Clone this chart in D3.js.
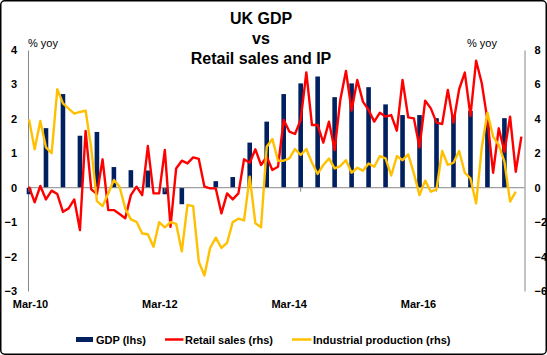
<!DOCTYPE html>
<html><head><meta charset="utf-8">
<script src="https://cdn.jsdelivr.net/npm/d3@7"></script>
<style>
html,body{margin:0;padding:0;background:#fff;}
text{font-family:"Liberation Sans",Arial,sans-serif;}
</style></head>
<body><svg id="c" width="547" height="355"></svg>
<script>
// ---- data ----
const titleLines = ["UK GDP", "vs", "Retail sales and IP"];
const xTickLabels = ["Mar-10", "Mar-12", "Mar-14", "Mar-16"];
const leftTicks = [4, 3, 2, 1, 0, -1, -2, -3];
const rightTicks = [8, 6, 4, 2, 0, -2, -4, -6];
// months Mar-10 .. Jun-17 (index 0..87)
const months = d3.timeMonth.range(new Date(2010, 2, 1), new Date(2017, 6, 1)).map(d3.timeFormat("%b-%y"));
// quarterly GDP (lhs), Mar-10 .. Mar-17
const gdpQuarters = months.filter((d, i) => i % 3 === 0 && i <= 84);
const gdp = [-0.19, 1.73, 2.72, 1.51, 1.62, 0.6, 0.51, 0.5, -0.19, -0.48, 0.0, 0.19, 0.31, 1.31, 1.92,
  2.72, 3.03, 3.23, 2.63, 3.03, 2.92, 2.42, 2.11, 2.11, 2.02, 2.11, 2.23, 2.0, 2.02];
// retail sales (rhs), Mar-10 .. Jun-17
const retail = [0.06, -0.85, 0.1, -0.68, -0.17, -0.37, -1.4, -1.2, -0.68, -2.46,
  3.3, -0.1, -0.37, 1.65, -1.3, -1.3, -1.53, -1.78, -0.43, 0.06,
  -0.43, 2.42, -0.33, -0.33, 2.2, -2.27, 1.12, 1.57, 1.41, 1.76,
  1.67, 0.06, -0.04, -0.04, -1.49, -0.33, -0.68, -0.33, 1.65, 1.45,
  2.23, 1.32, 1.8, 1.03, 1.22, 3.93, 3.26, 3.12, 3.93, 6.7,
  3.64, 3.64, 2.62, 3.84, 2.19, 5.1, 6.78, 4.48, 6.26, 5.0,
  4.52, 3.84, 4.36, 4.13, 4.22, 3.31, 6.26, 4.09, 4.03, 2.34,
  5.06, 4.61, 3.78, 3.7, 5.68, 3.78, 5.72, 6.69, 4.17, 7.38,
  6.07, 3.93, 0.87, 3.45, 2.09, 4.13, 0.93, 2.97];
// industrial production (rhs), Mar-10 .. May-17
const industrial = [3.97, 2.23, 3.88, 2.34, 2.0, 5.72, 4.9, 4.6, 4.3, 4.4,
  4.48, 2.3, -0.78, -1.07, -0.33, 0.45, 0.06, -1.2, -1.84, -1.98,
  -2.66, -2.7, -3.43, -2.0, -2.3, -2.0, -2.1, -3.7, -1.0, -1.07,
  -4.3, -5.1, -3.5, -2.9, -3.5, -3.2, -2.0, -1.8, -1.9, 0.64,
  -2.07, -2.3, 2.38, 2.83, 1.57, 1.57, 1.7, 2.25, 1.9, 2.25,
  1.45, 0.8, 1.32, 1.7, 1.12, 1.26, 1.6, 0.87, 1.16, 0.99,
  1.41, 1.22, 1.84, 1.7, 0.71, 1.84, 1.6, 1.94, 0.83, -0.43,
  0.41, -0.23, -0.1, 2.13, 1.32, 1.45, 2.13, 0.87, 0.54, -0.91,
  2.34, 4.36, 2.97, 2.48, 1.51, -0.81, -0.23];
const legendItems = ["GDP (lhs)", "Retail sales (rhs)", "Industrial production (rhs)"];
const colors = {gdp: "#002060", retail: "#FF0000", ip: "#FFC000"};

// ---- drawing ----
const svg = d3.select("#c");
svg.append("rect").attr("x", 0.75).attr("y", 0.75).attr("width", 545.5).attr("height", 353.5)
  .attr("rx", 4).attr("fill", "#fff").attr("stroke", "#000").attr("stroke-width", 1.5);

const x = d3.scaleLinear().domain([0, 87]).range([29, 521.4]);
const yL = d3.scaleLinear().domain([-3, 4]).range([291, 50]);
const yR = d3.scaleLinear().domain([-6, 8]).range([291, 50]);
const xLab = d3.scalePoint().domain(xTickLabels).range([30, 418]);
const plotL = 28, plotR = 524.5;

// title
svg.append("g").selectAll("text").data(titleLines).join("text")
  .attr("x", 261).attr("y", (d, i) => 23.5 + i * 20)
  .attr("text-anchor", "middle").attr("font-size", 16).attr("font-weight", "bold").text(d => d);

// unit labels
svg.append("text").attr("x", 28).attr("y", 47).attr("font-size", 11).text("% yoy");
svg.append("text").attr("x", 497).attr("y", 47).attr("font-size", 11).attr("text-anchor", "end").text("% yoy");

// axes
const axL = d3.axisLeft(yL).tickValues(leftTicks).tickSize(0).tickPadding(11).tickFormat(d3.format("d"));
const gL = svg.append("g").attr("transform", `translate(${plotL},0)`).call(axL);
const axR = d3.axisRight(yR).tickValues(rightTicks).tickSize(0).tickPadding(10).tickFormat(d3.format("d"));
const gR = svg.append("g").attr("transform", `translate(${plotR},0)`).call(axR);
[gL, gR].forEach(g => {
  g.select(".domain").attr("stroke", "#888").attr("stroke-width", 1);
  g.selectAll("text").attr("font-size", 11).attr("font-weight", "bold").attr("fill", "#000")
    .attr("font-family", "Liberation Sans, Arial, sans-serif");
});

// x label axis
const axX = d3.axisBottom(xLab).tickSize(0).tickPadding(0);
const gX = svg.append("g").attr("transform", "translate(0,300)").call(axX);
gX.select(".domain").remove();
gX.selectAll("text").attr("font-size", 11).attr("font-weight", "bold").attr("fill", "#000")
  .attr("dy", "0.71em").attr("y", 0).attr("font-family", "Liberation Sans, Arial, sans-serif");

// bars
const bw = 4.6;
svg.append("g").selectAll("rect").data(gdp).join("rect")
  .attr("x", (d, i) => x(months.indexOf(gdpQuarters[i])) - bw / 2)
  .attr("y", d => Math.min(yL(d), yL(0)))
  .attr("width", bw)
  .attr("height", d => Math.abs(yL(d) - yL(0)))
  .attr("fill", colors.gdp);

// zero line and ticks
svg.append("line").attr("x1", plotL).attr("x2", plotR).attr("y1", yL(0)).attr("y2", yL(0))
  .attr("stroke", "#888").attr("stroke-width", 1);
svg.append("g").selectAll("line").data([0, 24, 48, 72]).join("line")
  .attr("x1", d => x(d)).attr("x2", d => x(d)).attr("y1", yL(0)).attr("y2", yL(0) + 4)
  .attr("stroke", "#888").attr("stroke-width", 1);

// lines
const line = d3.line().x((d, i) => x(i)).y(d => yR(d));
svg.append("path").datum(retail).attr("d", line).attr("fill", "none")
  .attr("stroke", colors.retail).attr("stroke-width", 2.4).attr("stroke-linejoin", "round");
svg.append("path").datum(industrial).attr("d", line).attr("fill", "none")
  .attr("stroke", colors.ip).attr("stroke-width", 2.4).attr("stroke-linejoin", "round");

// legend
const lg = svg.append("g").attr("font-size", 11).attr("font-weight", "bold");
lg.append("rect").attr("x", 76).attr("y", 337).attr("width", 17).attr("height", 5).attr("fill", colors.gdp);
lg.append("text").attr("x", 96).attr("y", 343.5).text(legendItems[0]);
lg.append("line").attr("x1", 165).attr("x2", 183.5).attr("y1", 339.5).attr("y2", 339.5)
  .attr("stroke", colors.retail).attr("stroke-width", 2.5);
lg.append("text").attr("x", 185).attr("y", 343.5).text(legendItems[1]);
lg.append("line").attr("x1", 292).attr("x2", 311.5).attr("y1", 339.5).attr("y2", 339.5)
  .attr("stroke", colors.ip).attr("stroke-width", 2.5);
lg.append("text").attr("x", 313).attr("y", 343.5).text(legendItems[2]);
</script></body></html>
